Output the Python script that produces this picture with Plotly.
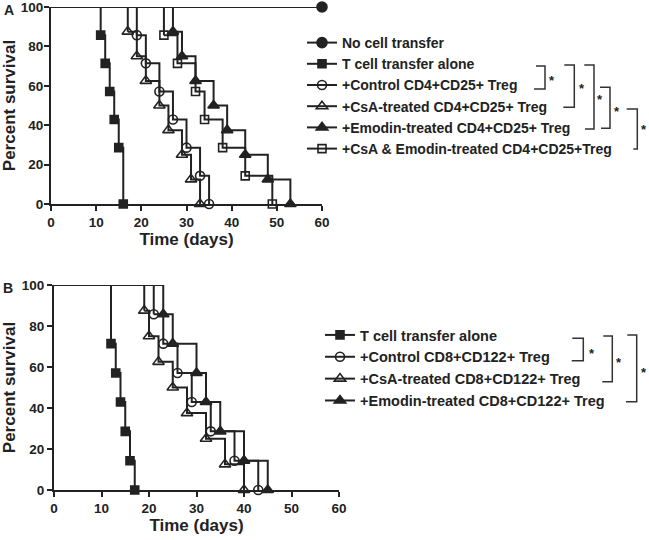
import plotly.graph_objects as go

# ---------------- data ----------------
# Panel A: event times (days) and survival (%) after each event
a_labels = [
    "No cell transfer",
    "T cell transfer alone",
    "+Control CD4+CD25+ Treg",
    "+CsA-treated CD4+CD25+ Treg",
    "+Emodin-treated CD4+CD25+ Treg",
    "+CsA & Emodin-treated CD4+CD25+Treg",
]
a_none_t = [60]
a_none_s = [100]
a_tcell_t = [11, 12, 13, 14, 15, 16]
a_tcell_s = [85.7, 71.4, 57.1, 42.9, 28.6, 0]
a_ctrl_t = [19, 21, 24, 27, 30, 33, 35]
a_ctrl_s = [85.7, 71.4, 57.1, 42.9, 28.6, 14.3, 0]
a_csa_t = [17, 19, 21, 24, 26, 29, 31, 33]
a_csa_s = [87.5, 75, 62.5, 50, 37.5, 25, 12.5, 0]
a_emo_t = [27, 29, 32, 36, 39, 43, 48, 53]
a_emo_s = [87.5, 75, 62.5, 50, 37.5, 25, 12.5, 0]
a_both_t = [25, 28, 32, 34, 38, 43, 49]
a_both_s = [85.7, 71.4, 57.1, 42.9, 28.6, 14.3, 0]

# Panel B
b_labels = [
    "T cell transfer alone",
    "+Control CD8+CD122+ Treg",
    "+CsA-treated CD8+CD122+ Treg",
    "+Emodin-treated CD8+CD122+ Treg",
]
b_tcell_t = [12, 13, 14, 15, 16, 17]
b_tcell_s = [71.4, 57.1, 42.9, 28.6, 14.3, 0]
b_ctrl_t = [21, 23, 26, 29, 33, 38, 43]
b_ctrl_s = [85.7, 71.4, 57.1, 42.9, 28.6, 14.3, 0]
b_csa_t = [19, 20, 22, 25, 28, 32, 36, 40]
b_csa_s = [87.5, 75, 62.5, 50, 37.5, 25, 12.5, 0]
b_emo_t = [23, 25, 30, 32, 35, 40, 45]
b_emo_s = [85.7, 71.4, 57.1, 42.9, 28.6, 14.3, 0]

x_ticks = [0, 10, 20, 30, 40, 50, 60]
y_ticks = [0, 20, 40, 60, 80, 100]

# ---------------- style ----------------
W, H = 649, 540
INK = "#222222"
FONT = "Liberation Sans, Arial, Helvetica, sans-serif"


def X(px):
    return px / W


def Y(py):
    return 1 - py / H


fig = go.Figure()


def km(t, s, name, symbol, size, xa, ya, legend):
    # initial plateau at 100% up to the first event
    fig.add_trace(go.Scatter(
        x=[0, t[0]], y=[100, s[0]], mode="lines", line_shape="hv",
        line=dict(color=INK, width=2), xaxis=xa, yaxis=ya,
        showlegend=False, hoverinfo="skip", cliponaxis=False))
    fig.add_trace(go.Scatter(
        x=t, y=s, mode="lines+markers", line_shape="hv", name=name,
        line=dict(color=INK, width=2),
        marker=dict(symbol=symbol, size=size, color=INK,
                    line=dict(color=INK, width=1.6)),
        xaxis=xa, yaxis=ya, legend=legend, cliponaxis=False))


km(a_none_t, a_none_s, a_labels[0], "circle", 10, "x", "y", "legend")
km(a_tcell_t, a_tcell_s, a_labels[1], "square", 8, "x", "y", "legend")
km(a_ctrl_t, a_ctrl_s, a_labels[2], "circle-open", 9, "x", "y", "legend")
km(a_csa_t, a_csa_s, a_labels[3], "triangle-up-open", 10, "x", "y", "legend")
km(a_emo_t, a_emo_s, a_labels[4], "triangle-up", 10, "x", "y", "legend")
km(a_both_t, a_both_s, a_labels[5], "square-open", 8, "x", "y", "legend")

km(b_tcell_t, b_tcell_s, b_labels[0], "square", 8, "x2", "y2", "legend2")
km(b_ctrl_t, b_ctrl_s, b_labels[1], "circle-open", 9, "x2", "y2", "legend2")
km(b_csa_t, b_csa_s, b_labels[2], "triangle-up-open", 10, "x2", "y2", "legend2")
km(b_emo_t, b_emo_s, b_labels[3], "triangle-up", 10, "x2", "y2", "legend2")

tickfont = dict(family=FONT, size=13.5, color=INK, weight="bold")
titlefont = dict(family=FONT, size=17, color=INK, weight="bold")
common = dict(showline=True, linecolor=INK, linewidth=2, ticks="outside",
              ticklen=5, tickwidth=2, tickcolor=INK, showgrid=False,
              zeroline=False, tickfont=tickfont, fixedrange=True,
              automargin=False, ticklabeloverflow="allow")

fig.update_layout(
    width=W, height=H, margin=dict(l=0, r=0, t=0, b=0, autoexpand=False),
    paper_bgcolor="white", plot_bgcolor="white",
    font=dict(family=FONT, color=INK),
    xaxis=dict(domain=[X(51), X(322)], anchor="y", range=[0, 60],
               tickvals=x_ticks, title=dict(text="Time (days)", font=titlefont, standoff=4),
               **common),
    yaxis=dict(domain=[Y(204), Y(7)], anchor="x", range=[0, 100],
               tickvals=y_ticks, ticklabelstandoff=-2,
               title=dict(text="Percent survival", font=titlefont, standoff=6),
               **common),
    xaxis2=dict(domain=[X(54), X(339)], anchor="y2", range=[0, 60],
                tickvals=x_ticks, title=dict(text="Time (days)", font=titlefont, standoff=4),
                **common),
    yaxis2=dict(domain=[Y(490), Y(285)], anchor="x2", range=[0, 100],
                tickvals=y_ticks, title=dict(text="Percent survival", font=titlefont, standoff=4),
                **common),
    legend=dict(x=X(302), y=Y(27), xanchor="left", yanchor="top",
                bgcolor="rgba(0,0,0,0)", itemwidth=30, tracegroupgap=0,
                font=dict(family=FONT, size=14, color=INK, weight="bold")),
    legend2=dict(x=X(320), y=Y(319), xanchor="left", yanchor="top",
                 bgcolor="rgba(0,0,0,0)", itemwidth=30, tracegroupgap=0,
                 font=dict(family=FONT, size=14.5, color=INK, weight="bold")),
    showlegend=True,
)

# panel letters
for txt, px, py in [("A", 8.5, 0), ("B", 7.5, 278)]:
    fig.add_annotation(text=txt, x=X(px), y=Y(py), xref="paper", yref="paper",
                       showarrow=False, xanchor="center", yanchor="top",
                       font=dict(family=FONT, size=14, color=INK, weight="bold"))

# significance brackets: (vertical x, top y, bottom y, top-left x, bottom-left x, star x, star y)
brackets = [
    (545, 66, 89, 536, 534, 552, 77),
    (574.3, 65, 107.3, 564.3, 563.3, 581.7, 85),
    (594, 65, 129, 584.3, 585, 600, 96.7),
    (610, 87.3, 128.3, 600, 601, 616.7, 109),
    (637.3, 109, 149, 626.7, 633.3, 644, 126.7),
    (583.3, 338.3, 360.7, 572.3, 571.7, 591.7, 350.7),
    (612.3, 336, 381.7, 603.3, 602.3, 619.3, 359.3),
    (636.7, 335, 401.7, 627.3, 626, 644, 369.3),
]
for xv, yt, yb, xtl, xbl, sx, sy in brackets:
    path = f"M {X(xtl)} {Y(yt)} L {X(xv)} {Y(yt)} L {X(xv)} {Y(yb)} L {X(xbl)} {Y(yb)}"
    fig.add_shape(type="path", path=path, xref="paper", yref="paper",
                  line=dict(color="#333333", width=1.5))
    fig.add_annotation(text="*", x=X(sx), y=Y(sy + 3), xref="paper", yref="paper",
                       showarrow=False, xanchor="center", yanchor="middle",
                       font=dict(family=FONT, size=13, color=INK, weight="bold"))

fig.write_html("out.html", config={"displayModeBar": False},
               post_script="document.body.style.margin='0px';")
